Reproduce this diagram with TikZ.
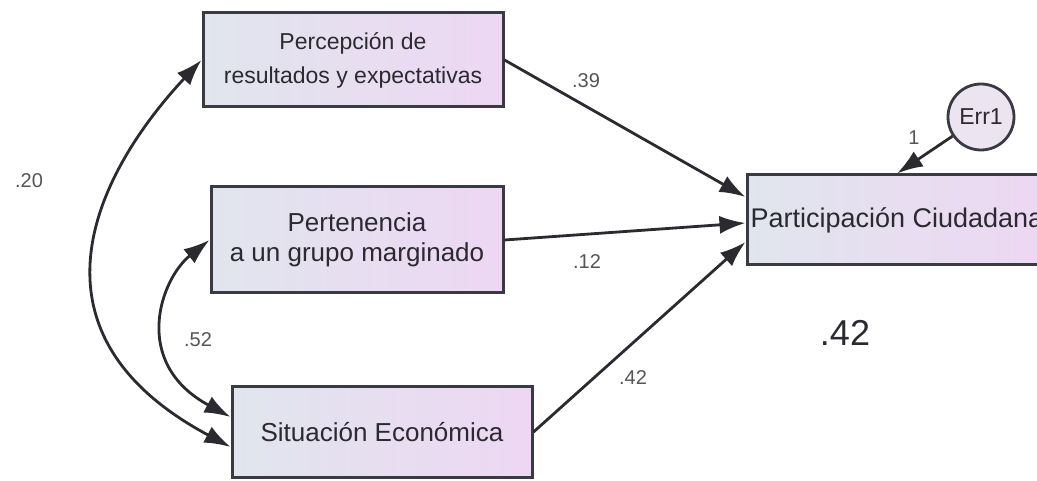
\documentclass[tikz,border=0pt]{standalone}
\usepackage{fontspec}
\setmainfont{Liberation Sans}
\usetikzlibrary{arrows.meta,calc}
\definecolor{boxL}{HTML}{E1E5EE}
\definecolor{boxR}{HTML}{EDD7F3}
\definecolor{edgec}{HTML}{3A3A42}
\definecolor{ink}{HTML}{2A2A30}
\definecolor{lab}{HTML}{555555}
\definecolor{errfill}{HTML}{ECE4F1}
\begin{document}
\begin{tikzpicture}[x=1pt,y=-1pt,
  varbox/.style={draw=edgec, line width=3pt, left color=boxL, right color=boxR, inner sep=0pt, align=center, text=ink},
  link/.style={draw=ink, line width=2.8pt, -{Latex[length=26pt,width=18pt]}},
  dlink/.style={draw=ink, line width=2.8pt, {Latex[length=26pt,width=18pt]}-{Latex[length=26pt,width=18pt]}},
  coef/.style={text=lab, font=\fontsize{20}{22}\selectfont}]
\clip (0,0) rectangle (1037,481);
\fill[white] (0,0) rectangle (1037,481);

\node[varbox, minimum width=300pt, minimum height=94pt, font=\fontsize{23}{34}\selectfont] (b1) at (353,60) {Percepción de\\resultados y expectativas};
\node[varbox, minimum width=292pt, minimum height=106pt, font=\fontsize{26}{30}\selectfont] (b2) at (357,240) {Pertenencia\\a un grupo marginado};
\node[varbox, minimum width=300pt, minimum height=91pt, font=\fontsize{26}{30}\selectfont] (b3) at (382,432) {Situación Económica};
\node[varbox, minimum width=300pt, minimum height=90pt, font=\fontsize{27}{30}\selectfont] (b4) at (897,220) {Participación Ciudadana};
\node[circle, draw=edgec, line width=2.8pt, fill=errfill, minimum size=66pt, inner sep=0pt, text=ink, font=\fontsize{23}{26}\selectfont] (e1) at (981,117) {Err1};

\draw[link] (b1.east) -- ($(b4.west)+(0,-23)$);
\draw[link] (b2.east) -- ($(b4.west)+(0,3)$);
\draw[link] (b3.east) -- ($(b4.west)+(0,22)$);
\draw[link] (e1) -- (b4.north);

\draw[dlink] (b1.west) .. controls +(-101,108) and +(-219,-117) .. ($(b3.west)+(0,15)$);
\draw[dlink] (b2.west) .. controls +(-49,39) and +(-100,-54) .. ($(b3.west)+(0,-15)$);

\node[coef] (c20) at (29,181) {.20};
\node[coef] (c52) at (198,340) {.52};
\node[coef] (c39) at (586,81) {.39};
\node[coef] (c12) at (587,262) {.12};
\node[coef] (c42) at (633,378) {.42};
\node[coef] (w1) at (914,138) {1};
\node[text=ink, font=\fontsize{36}{40}\selectfont] (r2) at (845,333) {.42};
\end{tikzpicture}
\end{document}
